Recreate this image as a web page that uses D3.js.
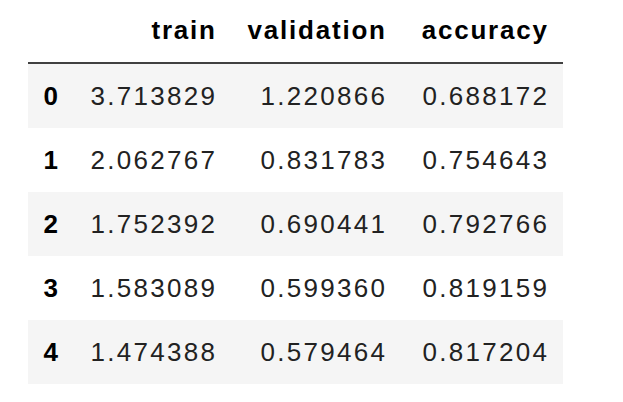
<!DOCTYPE html>
<html><head><meta charset="utf-8">
<script src="https://cdn.jsdelivr.net/npm/d3@7"></script>
<style>body{margin:0;background:#fff}</style></head>
<body><svg id="c" width="623" height="402"></svg>
<script>
const columns = ["train","validation","accuracy"];
const index = ["0","1","2","3","4"];
const train = ["3.713829","2.062767","1.752392","1.583089","1.474388"];
const validation = ["1.220866","0.831783","0.690441","0.599360","0.579464"];
const accuracy = ["0.688172","0.754643","0.792766","0.819159","0.817204"];
const values = [train, validation, accuracy];

const svg = d3.select("#c");
const font = "'Liberation Sans', Arial, sans-serif";
const y = d3.scaleBand().domain(index).range([64, 384]);
const colRight = [215, 385, 547];

svg.selectAll("rect.band").data(index).join("rect")
  .attr("x", 28).attr("width", 535)
  .attr("y", d => y(d)).attr("height", y.bandwidth())
  .attr("fill", (d,i) => i % 2 === 0 ? "#f5f5f5" : "#fff");

svg.append("line").attr("x1",28).attr("x2",563).attr("y1",63).attr("y2",63)
  .attr("stroke","#000").attr("stroke-width",1.5);

svg.selectAll("text.h").data(columns).join("text")
  .attr("x",(d,i)=>colRight[i]+1.8).attr("y",30).attr("dy","0.35em")
  .attr("text-anchor","end").attr("font-family",font).attr("font-size",26)
  .attr("letter-spacing",1.8)
  .attr("font-weight","bold").attr("fill","#000").text(d=>d);

svg.selectAll("text.idx").data(index).join("text")
  .attr("x",58).attr("y",d=>y(d)+y.bandwidth()/2).attr("dy","0.35em")
  .attr("text-anchor","end").attr("font-family",font).attr("font-size",26)
  .attr("font-weight","bold").attr("fill","#000").text(d=>d);

values.forEach((col, c) => {
  svg.selectAll("text.v"+c).data(col).join("text")
    .attr("x", colRight[c]+2.3).attr("y",(d,i)=>y(index[i])+y.bandwidth()/2).attr("dy","0.35em")
    .attr("text-anchor","end").attr("font-family",font).attr("font-size",26)
    .attr("letter-spacing",2.3)
    .attr("fill","#222").text(d=>d);
});
</script></body></html>
